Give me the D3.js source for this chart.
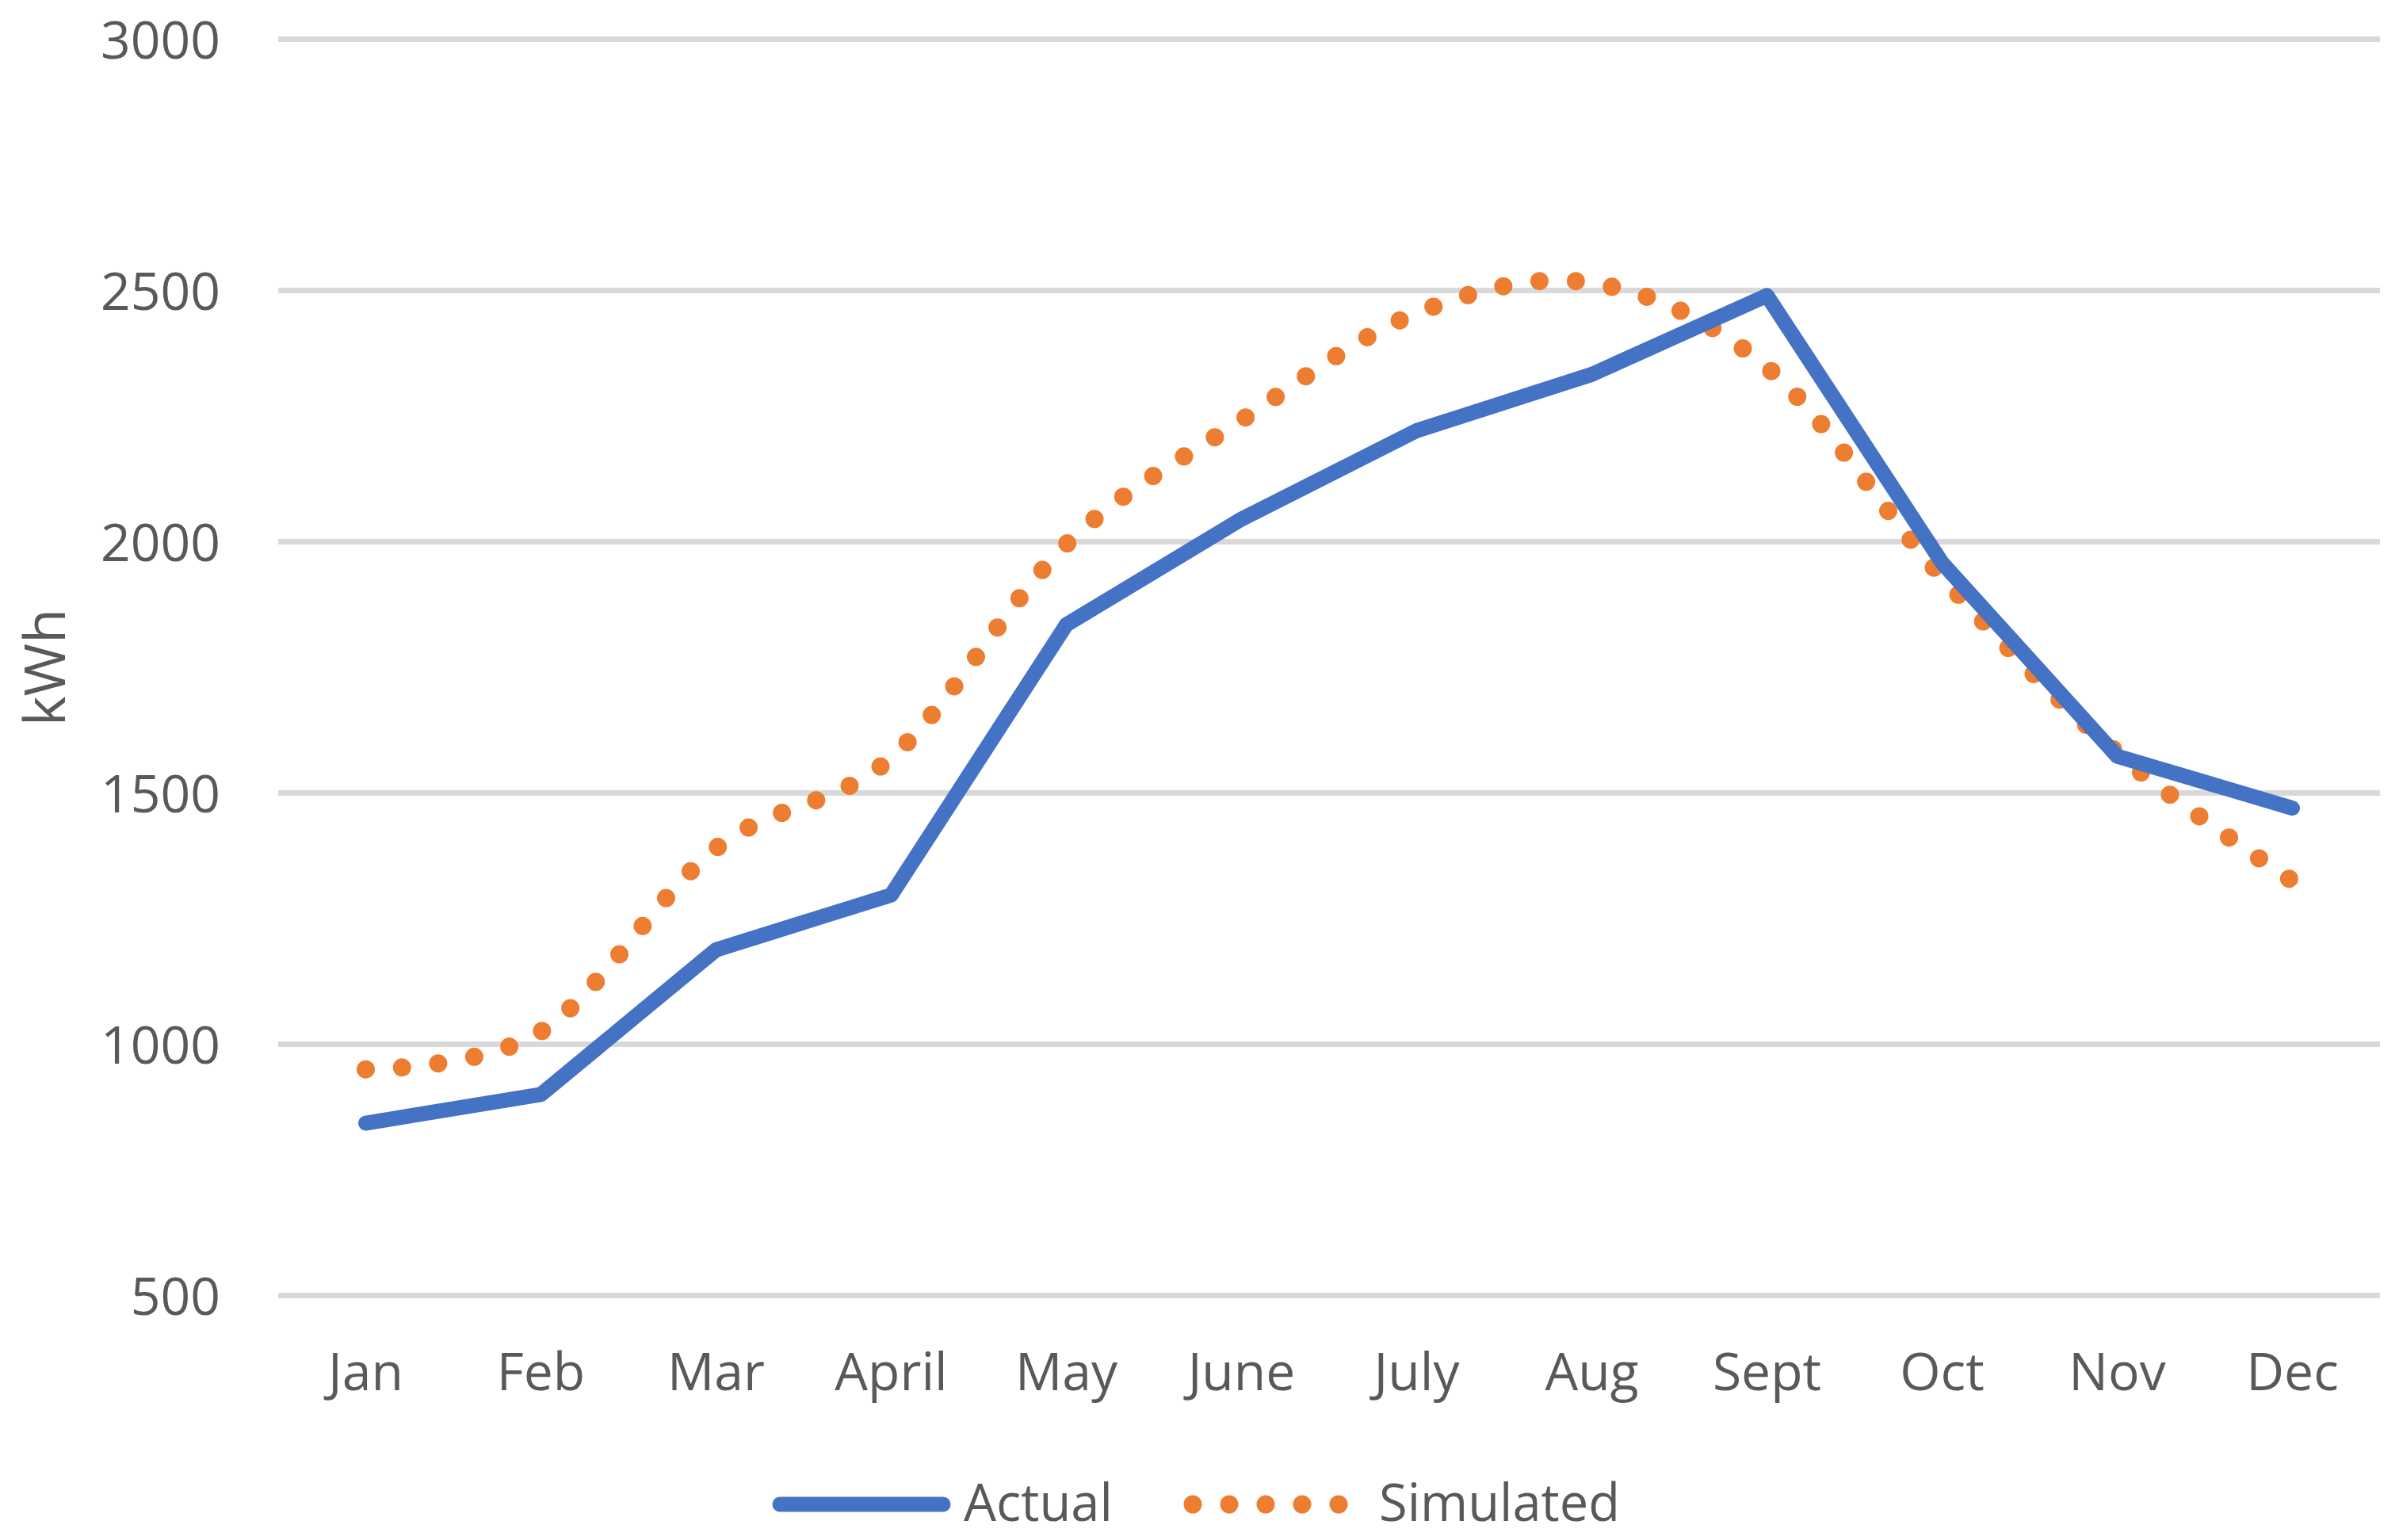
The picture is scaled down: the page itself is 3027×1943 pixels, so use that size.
<!DOCTYPE html>
<html>
<head>
<meta charset="utf-8">
<script src="https://cdn.jsdelivr.net/npm/d3@7"></script>
<style>
  html, body { margin: 0; padding: 0; background: #ffffff; }
  svg { display: block; }
  text { font-family: "Open Sans", "Noto Sans", sans-serif; fill: #595959; }
</style>
</head>
<body>
<svg id="chart" width="3027" height="1943"></svg>
<script>
// ---- data ----
const months = ["Jan", "Feb", "Mar", "April", "May", "June", "July", "Aug", "Sept", "Oct", "Nov", "Dec"];
const actual = [843, 900, 1188, 1297, 1835, 2045, 2221, 2333, 2490, 1958, 1573, 1470];
const simulated = [950, 1025, 1390, 1570, 1995, 2242, 2455, 2515, 2347, 1930, 1580, 1325];
const yTicks = [500, 1000, 1500, 2000, 2500, 3000];
const seriesNames = ["Actual", "Simulated"];
const yTitle = "kWh";

(function () {
  const svg = d3.select("#chart");
  const plotLeft = 351, plotRight = 3003, plotTop = 49.5, plotBottom = 1634.5;
  const blue = "#4472C4", orange = "#ED7D31", grid = "#D9D9D9";

  const x = d3.scaleBand().domain(months).range([plotLeft, plotRight]);
  const y = d3.scaleLinear().domain([500, 3000]).range([plotBottom, plotTop]);
  const cx = m => x(m) + x.bandwidth() / 2;

  // gridlines
  svg.append("g").selectAll("line").data(yTicks).join("line")
    .attr("x1", plotLeft).attr("x2", plotRight)
    .attr("y1", d => y(d)).attr("y2", d => y(d))
    .attr("stroke", grid).attr("stroke-width", 7);

  // y axis labels
  const yAxis = d3.axisLeft(y).tickValues(yTicks).tickSize(0).tickPadding(73).tickFormat(d3.format("d"));
  const gy = svg.append("g").attr("transform", `translate(${plotLeft},0)`).call(yAxis);
  gy.select(".domain").remove();
  gy.selectAll("text").attr("font-size", 66).attr("fill", "#595959")
    .attr("font-family", "Open Sans").attr("dy", "0.36em");

  // x axis labels
  const xAxis = d3.axisBottom(x).tickSize(0).tickPadding(0);
  const gx = svg.append("g").call(xAxis);
  gx.select(".domain").remove();
  gx.selectAll("text").attr("font-size", 66).attr("fill", "#595959")
    .attr("font-family", "Open Sans").attr("y", 1754).attr("dy", 0);

  // y title
  svg.append("text").text(yTitle)
    .attr("transform", "translate(81.7,842) rotate(-90)")
    .attr("text-anchor", "middle").attr("font-size", 72);

  // lines
  const pts = arr => months.map((m, i) => [cx(m), y(arr[i])]);
  svg.append("path")
    .attr("d", d3.line().curve(d3.curveCardinal.tension(0))(pts(simulated)))
    .attr("fill", "none").attr("stroke", orange).attr("stroke-width", 23)
    .attr("stroke-linecap", "round").attr("stroke-dasharray", "0 46");

  svg.append("path")
    .attr("d", d3.line()(pts(actual)))
    .attr("fill", "none").attr("stroke", blue).attr("stroke-width", 19)
    .attr("stroke-linecap", "round").attr("stroke-linejoin", "round");

  // legend
  const lg = svg.append("g");
  lg.append("line").attr("x1", 984).attr("x2", 1190).attr("y1", 1898).attr("y2", 1898)
    .attr("stroke", blue).attr("stroke-width", 19).attr("stroke-linecap", "round");
  lg.append("text").text(seriesNames[0]).attr("x", 1216).attr("y", 1919).attr("font-size", 65);
  lg.append("line").attr("x1", 1505).attr("x2", 1690).attr("y1", 1898).attr("y2", 1898)
    .attr("stroke", orange).attr("stroke-width", 23).attr("stroke-linecap", "round")
    .attr("stroke-dasharray", "0 46");
  lg.append("text").text(seriesNames[1]).attr("x", 1740).attr("y", 1919).attr("font-size", 65);
})();
</script>
</body>
</html>
